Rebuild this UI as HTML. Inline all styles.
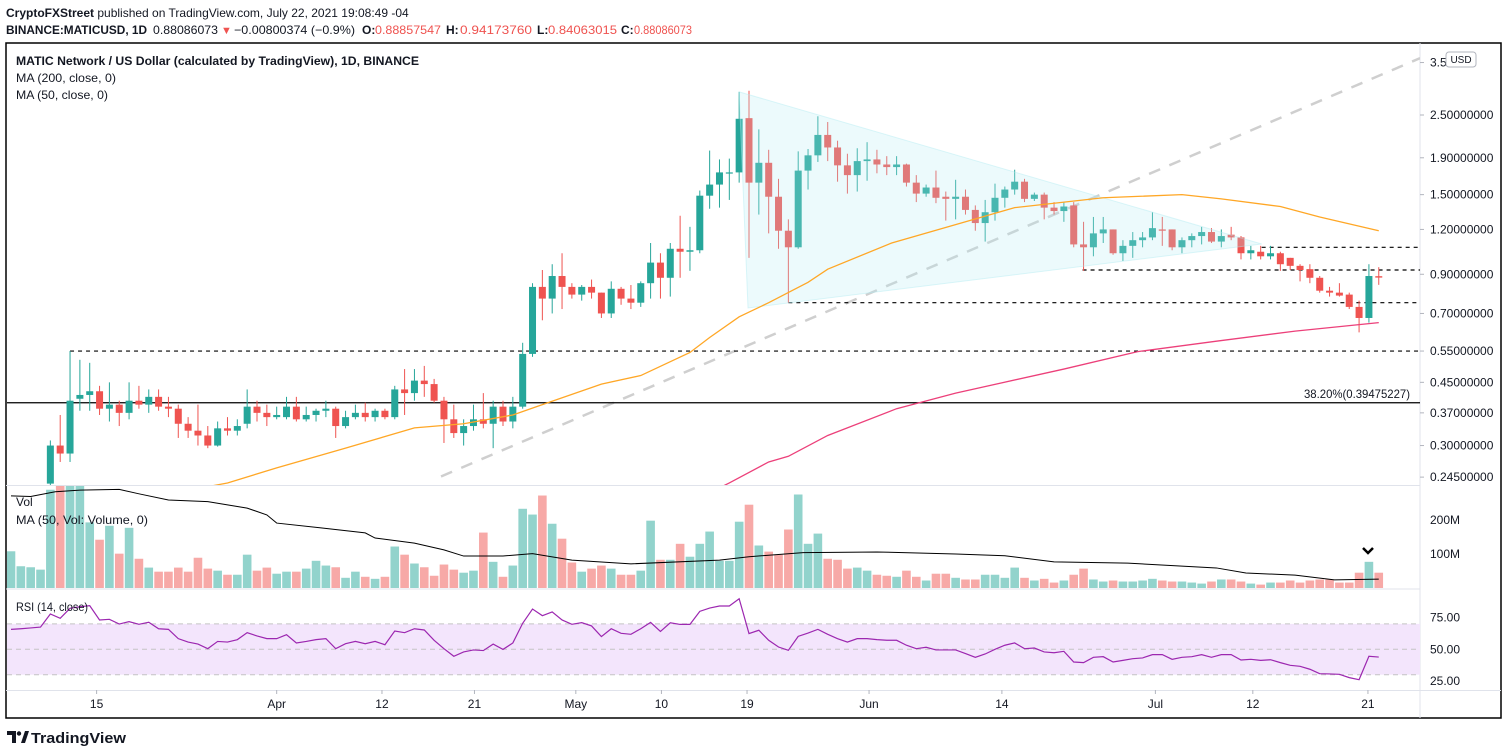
<!DOCTYPE html>
<html><head><meta charset="utf-8"><style>
html,body{margin:0;padding:0;background:#fff;}
svg{display:block;font-family:"Liberation Sans",sans-serif;}
</style></head><body>
<svg id="chart" width="1508" height="755" viewBox="0 0 1508 755" xmlns="http://www.w3.org/2000/svg">
<defs>
<clipPath id="cpPrice"><rect x="7" y="44" width="1413" height="441"/></clipPath>
<clipPath id="cpVol"><rect x="7" y="486" width="1413" height="102"/></clipPath>
<clipPath id="cpRsi"><rect x="7" y="590" width="1413" height="100"/></clipPath>
</defs>
<rect x="0" y="0" width="1508" height="755" fill="#fff"/>
<text x="6" y="17" font-size="12" fill="#131722"><tspan font-weight="bold">CryptoFXStreet</tspan> published on TradingView.com, July 22, 2021 19:08:49 -04</text>
<g font-size="12">
<text x="6" y="34" font-weight="bold" fill="#131722" textLength="141" lengthAdjust="spacingAndGlyphs">BINANCE:MATICUSD, 1D</text>
<text x="153" y="34" fill="#131722" textLength="65" lengthAdjust="spacingAndGlyphs">0.88086073</text>
<text x="221" y="34" fill="#ef5350" font-size="11">▼</text>
<text x="234" y="34" fill="#131722" textLength="121" lengthAdjust="spacingAndGlyphs">−0.00800374 (−0.9%)</text>
<text x="362" y="34" font-weight="bold" fill="#131722">O:</text>
<text x="375" y="34" fill="#ef5350" textLength="66" lengthAdjust="spacingAndGlyphs">0.88857547</text>
<text x="446" y="34" font-weight="bold" fill="#131722">H:</text>
<text x="460" y="34" fill="#ef5350" textLength="72" lengthAdjust="spacingAndGlyphs">0.94173760</text>
<text x="537" y="34" font-weight="bold" fill="#131722">L:</text>
<text x="548" y="34" fill="#ef5350" textLength="69" lengthAdjust="spacingAndGlyphs">0.84063015</text>
<text x="621" y="34" font-weight="bold" fill="#131722">C:</text>
<text x="634" y="34" fill="#ef5350" textLength="58" lengthAdjust="spacingAndGlyphs">0.88086073</text>
</g>
<rect x="6" y="43" width="1495" height="675" fill="none" stroke="#000" stroke-width="1.5"/>
<line x1="1420" y1="43" x2="1420" y2="718" stroke="#e0e3eb"/>
<line x1="6" y1="485.5" x2="1420" y2="485.5" stroke="#e0e3eb"/>
<line x1="6" y1="589" x2="1420" y2="589" stroke="#e0e3eb"/>
<line x1="6" y1="690.5" x2="1501" y2="690.5" stroke="#e0e3eb"/>

<g id="rsiBand"></g>
<g id="pricePane" clip-path="url(#cpPrice)"></g>
<g id="volPane" clip-path="url(#cpVol)"></g>
<g id="rsiPane" clip-path="url(#cpRsi)"></g>
<g id="axes" font-size="12" fill="#131722"></g>

<text x="16" y="65" font-size="12" font-weight="bold" fill="#131722" textLength="403" lengthAdjust="spacingAndGlyphs">MATIC Network / US Dollar (calculated by TradingView), 1D, BINANCE</text>
<text x="16" y="82" font-size="12" fill="#131722" textLength="100" lengthAdjust="spacingAndGlyphs">MA (200, close, 0)</text>
<text x="16" y="99" font-size="12" fill="#131722" textLength="92" lengthAdjust="spacingAndGlyphs">MA (50, close, 0)</text>
<text x="16" y="506" font-size="12" fill="#131722">Vol</text>
<text x="16" y="524" font-size="12" fill="#131722" textLength="132" lengthAdjust="spacingAndGlyphs">MA (50, Vol: Volume, 0)</text>
<text x="16" y="611" font-size="12" fill="#131722" textLength="72" lengthAdjust="spacingAndGlyphs">RSI (14, close)</text>
<text x="1410" y="398" font-size="12" fill="#131722" text-anchor="end" textLength="106" lengthAdjust="spacingAndGlyphs">38.20%(0.39475227)</text>
<g>
<rect x="1446" y="52" width="30" height="15" rx="3" fill="#fff" stroke="#b2b5be"/>
<text x="1461" y="63" font-size="10" fill="#131722" text-anchor="middle">USD</text>
</g>
<path d="M1363 548 L1368 553 L1373 548" fill="none" stroke="#000" stroke-width="2.5"/>
<g>
<path d="M7 731 h9 v12 h-4 v-8 h-5 z" fill="#131722"/>
<circle cx="19" cy="733.5" r="2.2" fill="#131722"/>
<path d="M21 743 l4 -12 h4 l-4 12 z" fill="#131722"/>
<text x="31" y="743" font-size="15" font-weight="bold" fill="#131722" textLength="95" lengthAdjust="spacingAndGlyphs">TradingView</text>
</g>
</svg>
<script>
const opens=[0.19,0.2,0.205,0.21,0.235,0.30,0.285,0.405,0.415,0.425,0.38,0.39,0.37,0.40,0.39,0.41,0.385,0.38,0.345,0.33,0.32,0.30,0.335,0.33,0.345,0.385,0.37,0.36,0.36,0.385,0.355,0.365,0.375,0.38,0.34,0.36,0.37,0.36,0.375,0.36,0.43,0.42,0.455,0.445,0.40,0.355,0.325,0.34,0.355,0.345,0.385,0.35,0.385,0.54,0.83,0.77,0.89,0.83,0.79,0.83,0.80,0.70,0.82,0.77,0.75,0.85,0.97,0.88,1.06,1.04,1.05,1.49,1.60,1.72,1.73,2.45,1.62,1.84,1.48,1.19,1.07,1.75,1.93,2.20,2.03,1.81,1.70,1.86,1.88,1.82,1.79,1.82,1.62,1.51,1.57,1.48,1.46,1.48,1.36,1.25,1.34,1.47,1.55,1.63,1.46,1.50,1.38,1.35,1.40,1.09,1.07,1.17,1.20,1.03,1.08,1.12,1.14,1.20,1.20,1.07,1.12,1.15,1.18,1.11,1.16,1.14,1.03,1.04,1.01,1.03,1.00,0.95,0.93,0.88,0.81,0.80,0.79,0.73,0.68,0.889];
const highs=[0.21,0.215,0.22,0.22,0.31,0.365,0.55,0.52,0.51,0.44,0.45,0.40,0.45,0.44,0.43,0.43,0.41,0.39,0.36,0.39,0.34,0.35,0.36,0.355,0.43,0.40,0.39,0.385,0.41,0.41,0.385,0.38,0.40,0.385,0.375,0.39,0.395,0.38,0.38,0.44,0.49,0.49,0.50,0.46,0.41,0.39,0.355,0.39,0.42,0.40,0.40,0.41,0.58,0.85,0.925,0.96,1.03,0.85,0.84,0.87,0.80,0.86,0.83,0.84,0.86,1.10,1.03,1.10,1.31,1.22,1.54,1.99,1.88,1.89,2.90,2.92,2.28,2.0,1.66,1.28,1.98,2.01,2.48,2.39,2.12,1.95,2.02,2.10,2.0,1.92,1.92,1.83,1.70,1.60,1.75,1.53,1.65,1.55,1.40,1.45,1.61,1.58,1.76,1.66,1.52,1.52,1.43,1.43,1.43,1.26,1.30,1.30,1.20,1.12,1.18,1.18,1.34,1.30,1.20,1.14,1.17,1.22,1.21,1.20,1.22,1.15,1.08,1.08,1.08,1.04,1.00,0.96,0.96,0.89,0.83,0.85,0.80,0.76,0.96,0.942];
const lows=[0.18,0.19,0.195,0.2,0.225,0.27,0.27,0.375,0.375,0.365,0.35,0.34,0.355,0.38,0.37,0.375,0.36,0.315,0.315,0.30,0.295,0.298,0.32,0.32,0.335,0.35,0.34,0.355,0.355,0.35,0.35,0.35,0.36,0.315,0.335,0.355,0.35,0.35,0.355,0.355,0.365,0.40,0.41,0.395,0.305,0.315,0.30,0.33,0.335,0.295,0.34,0.335,0.38,0.53,0.67,0.70,0.72,0.77,0.76,0.77,0.68,0.68,0.74,0.72,0.73,0.77,0.77,0.78,0.88,0.92,1.03,1.37,1.38,1.45,1.62,1.00,1.32,1.17,1.06,0.75,1.06,1.55,1.85,1.86,1.63,1.51,1.53,1.64,1.72,1.70,1.70,1.58,1.43,1.48,1.42,1.27,1.28,1.32,1.19,1.11,1.27,1.38,1.50,1.43,1.44,1.28,1.32,1.26,1.07,0.92,1.01,1.10,1.02,0.98,1.00,1.07,1.12,1.08,1.05,1.03,1.07,1.09,1.10,1.07,1.12,0.99,0.99,0.99,0.99,0.92,0.925,0.86,0.85,0.80,0.78,0.78,0.72,0.62,0.66,0.841];
const closes=[0.2,0.205,0.21,0.215,0.30,0.285,0.40,0.415,0.425,0.38,0.39,0.37,0.40,0.39,0.41,0.385,0.38,0.345,0.33,0.32,0.30,0.335,0.33,0.34,0.385,0.37,0.36,0.365,0.385,0.355,0.365,0.375,0.38,0.34,0.36,0.37,0.36,0.375,0.36,0.43,0.42,0.455,0.445,0.40,0.355,0.325,0.34,0.355,0.345,0.385,0.35,0.385,0.54,0.83,0.77,0.89,0.83,0.79,0.83,0.80,0.70,0.82,0.77,0.75,0.85,0.97,0.88,1.06,1.04,1.05,1.49,1.60,1.73,1.73,2.44,1.62,1.84,1.48,1.19,1.07,1.75,1.93,2.20,2.03,1.81,1.70,1.86,1.88,1.82,1.79,1.82,1.62,1.51,1.57,1.47,1.46,1.48,1.36,1.25,1.34,1.47,1.55,1.63,1.46,1.50,1.38,1.35,1.39,1.09,1.07,1.17,1.20,1.03,1.08,1.12,1.14,1.21,1.19,1.07,1.12,1.15,1.18,1.11,1.15,1.14,1.03,1.05,1.01,1.03,0.96,0.95,0.925,0.88,0.81,0.80,0.785,0.73,0.68,0.89,0.881];
const volumes=[108,64,61,54,289,330,330,320,193,142,183,101,177,86,60,48,48,60,48,89,57,51,39,39,98,51,60,42,48,48,57,80,66,61,30,48,33,27,33,122,98,72,61,36,69,54,45,51,163,77,33,66,233,216,272,189,145,75,48,57,66,57,39,39,51,198,83,83,130,92,130,166,80,80,195,245,125,107,98,172,275,130,160,86,83,57,60,51,39,36,33,51,33,22,42,42,30,25,25,39,39,30,60,30,22,27,16,22,39,57,25,19,22,19,19,22,27,22,19,19,16,13,19,25,25,19,13,10,16,16,22,16,22,25,25,16,16,45,77,45];
const rsiValues=[65.7,66.2,66.8,67.5,77.8,74.4,82.3,83.5,84.4,73.1,73.6,69.9,71.8,69.7,71.3,66.2,65.7,58.4,55.7,54.1,50.5,56.2,55.7,57.6,63.1,60.5,58.4,58.4,61.5,55,56.2,57.6,58.4,50.5,54.4,56.2,54.4,56.2,53.6,64.4,63.1,66.2,65.2,57.1,50.5,44.5,47.9,49.5,49,54.1,49.9,55,70.5,81.7,76.5,79.4,73.1,69.7,71,68.4,60,66.2,62.6,61.8,66.2,71.2,64.1,70.9,69.6,69.6,79.9,82.5,84.1,84.1,89.8,62.4,65,57.1,51.8,49.2,60.2,62.8,65.7,61.8,58.4,55.7,58.4,58.4,57.6,57.1,57.1,53.2,50.5,51.6,49.5,49.5,49.5,46.6,43.7,46.3,50,53.2,55,50.5,51,47.9,47.3,48.4,40,39.5,43.7,44.2,40,41.3,42.6,43.2,45.8,45.8,42.1,43.7,44.2,45.8,43.7,45.8,45.8,41.6,42.1,41.3,41.8,39.5,37.4,36.6,34.3,30.8,30.6,30.3,27.7,26.1,44.5,43.9];
const ma50Idx=[18,22,27,34,41,46,51,54,60,64,69,71,74,77,81,83,89.5,102,111,119,123,129,133,139];
const ma50Val=[0.225,0.236,0.26,0.295,0.336,0.345,0.365,0.39,0.445,0.47,0.545,0.60,0.685,0.75,0.855,0.93,1.10,1.38,1.47,1.50,1.46,1.39,1.30,1.19];
const ma200Idx=[70,73,77,79,83,90,96,107,114.5,122.5,130.5,139];
const ma200Val=[0.215,0.236,0.27,0.28,0.32,0.38,0.42,0.49,0.548,0.586,0.625,0.66];
const volMaIdx=[0,2,4.5,7,11,13,16,20,24,26,27,31.5,36,37,41,44,46,50,53,57,63,72,75,80.5,88,96,101,106,113.5,122.5,125.5,130.5,134.5,139];
const volMaVal=[271,269,283,288,290,277,259,254,235,215,191,177,162,147,132,112,94,94,101,82,71,82,92,104,106,100,95,77,73,59,44,38,24,26];
const priceTicks=[3.5,2.5,1.9,1.5,1.2,0.9,0.7,0.55,0.45,0.37,0.30,0.245];
const priceTickLabels=["3.5","2.50000000","1.90000000","1.50000000","1.20000000","0.90000000","0.70000000","0.55000000","0.45000000","0.37000000","0.30000000","0.24500000"];
const volTicks=[200,100];
const volTickLabels=["200M","100M"];
const rsiTicks=[75,50,25];
const rsiTickLabels=["75.00","50.00","25.00"];
const dateTickIdx=[8.7,27,37.7,47.1,57.4,66.1,74.8,87.2,100.7,116.3,126.2,137.9];
const dateTickLabels=["15","Apr","12","21","May","10","19","Jun","14","Jul","12","21"];
const levelPrices=[1.07,0.925,0.75,0.55];
const levelStartIdx=[127.1,108.9,79,6];
const fibPrice=0.39475227;
const triIdx=[74,127.1,74.9];
const triPrice=[2.90,1.093,0.725];
const trendIdx=[43.7,143.2];
const trendPrice=[0.246,3.60];

const NS="http://www.w3.org/2000/svg";
const xs=j=>11+j*9.84;
const yP=p=>115-155.9*Math.log(p/2.5);
const yV=v=>588-v*0.34;
const yR=r=>649.3-(r-50)*1.27;
function mk(tag,attrs,parent){const e=document.createElementNS(NS,tag);for(const k in attrs)e.setAttribute(k,attrs[k]);parent.appendChild(e);return e;}
const pp=document.getElementById('pricePane'),vp=document.getElementById('volPane'),rp=document.getElementById('rsiPane'),ax=document.getElementById('axes'),band=document.getElementById('rsiBand');

let tl=mk('line',{x1:xs(trendIdx[0]),y1:yP(trendPrice[0]),x2:xs(trendIdx[1]),y2:yP(trendPrice[1]),stroke:'#cfcfcf','stroke-width':2.5,'stroke-dasharray':'12 10'},pp);


let fl=mk('line',{x1:7,y1:yP(fibPrice),x2:1420,y2:yP(fibPrice),stroke:'#000','stroke-width':1.3},pp);


levelPrices.forEach((p,k)=>{
  const l=mk('line',{x1:xs(levelStartIdx[k]),y1:yP(p),x2:1420,y2:yP(p),stroke:'#000','stroke-width':1.2,'stroke-dasharray':'4 4'},pp);
  
  
});
for(let j=0;j<closes.length;j++){
  const up=closes[j]>=opens[j];const col=up?'#26a69a':'#ef5350';const cx=xs(j);
  const g=mk('g',{},pp);
  
  
  mk('line',{x1:cx,y1:yP(highs[j]),x2:cx,y2:yP(lows[j]),stroke:col,'stroke-width':1},g);
  const t=Math.min(yP(opens[j]),yP(closes[j]));const h=Math.max(1.2,Math.abs(yP(opens[j])-yP(closes[j])));
  mk('rect',{x:cx-3.5,y:t,width:7,height:h,fill:col},g);
}
let tri=mk('polygon',{points:triIdx.map((j,k)=>xs(j)+','+yP(triPrice[k])).join(' '),fill:'rgba(178,235,242,0.25)',stroke:'rgba(178,235,242,0.45)','stroke-width':1},pp);


let m50=mk('polyline',{points:ma50Idx.map((j,k)=>xs(j)+','+yP(ma50Val[k])).join(' '),fill:'none',stroke:'#ffa726','stroke-width':1.3},pp);


let m200=mk('polyline',{points:ma200Idx.map((j,k)=>xs(j)+','+yP(ma200Val[k])).join(' '),fill:'none',stroke:'#ec407a','stroke-width':1.3},pp);


for(let j=0;j<volumes.length;j++){
  const up=closes[j]>=opens[j];
  const r=mk('rect',{x:xs(j)-4.3,y:yV(volumes[j]),width:8.6,height:588-yV(volumes[j]),fill:up?'#92d3cc':'#f7a9a7'},vp);
  
  
}
let vm=mk('polyline',{points:volMaIdx.map((j,k)=>xs(j)+','+yV(volMaVal[k])).join(' '),fill:'none',stroke:'#000','stroke-width':1},vp);


let bd=mk('rect',{x:7,y:yR(70),width:1413,height:yR(30)-yR(70),fill:'#f3e5fc'},band);


[70,50,30].forEach(v=>{const l=mk('line',{x1:7,y1:yR(v),x2:1420,y2:yR(v),stroke:'#c4c4c4','stroke-dasharray':'5 4'},band);
  
  });
let rl=mk('polyline',{points:rsiValues.map((v,j)=>xs(j)+','+yR(v)).join(' '),fill:'none',stroke:'#9c27b0','stroke-width':1.2},rp);


priceTicks.forEach((p,k)=>{const t=mk('text',{x:1430,y:yP(p)+4},ax);t.textContent=priceTickLabels[k];
  
  
  mk('line',{x1:1420,y1:yP(p),x2:1424,y2:yP(p),stroke:'#b2b5be'},ax);});
volTicks.forEach((v,k)=>{const t=mk('text',{x:1430,y:yV(v)+4},ax);t.textContent=volTickLabels[k];
  
  });
rsiTicks.forEach((v,k)=>{const t=mk('text',{x:1430,y:yR(v)+4},ax);t.textContent=rsiTickLabels[k];
  
  });
dateTickIdx.forEach((j,k)=>{const t=mk('text',{x:xs(j),y:708,'text-anchor':'middle'},ax);t.textContent=dateTickLabels[k];
  
  
  mk('line',{x1:xs(j),y1:690,x2:xs(j),y2:694,stroke:'#b2b5be'},ax);});
</script>
</body></html>
